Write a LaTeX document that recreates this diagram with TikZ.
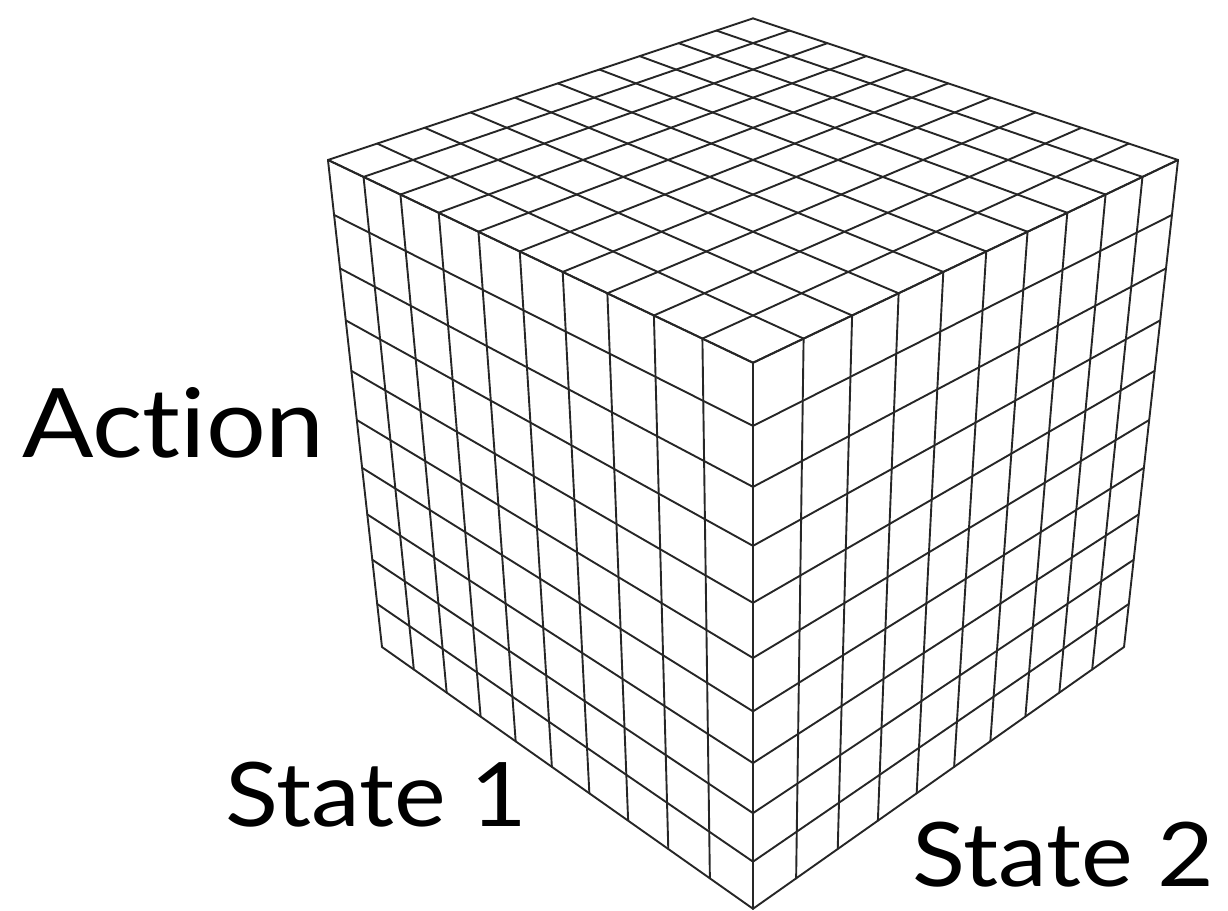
\documentclass[tikz,border=0pt]{standalone}
\usepackage{fontspec}
\setmainfont{Lato}[Ligatures=NoCommon, FakeStretch=1.1]
\usepackage{tikz}
\tikzset{
  % perspective view of the 10x10x10 cube (a: left, b: right, c: up)
  declare function={
    cd(\a,\b)=0.7071*(\a+\b)-7.071;
    cz(\a,\b,\c)=36.92+0.8653*cd(\a,\b)-0.5011*(\c-5);
    px(\a,\b,\c)=753+2068.6/cz(\a,\b,\c)*0.7071*(\b-\a);
    py(\a,\b,\c)=420-2068.6/cz(\a,\b,\c)*(0.8653*(\c-5)+0.5011*cd(\a,\b));
  }
}
\newcommand{\cubpt}[3]{({px(#1,#2,#3)},{py(#1,#2,#3)})}

\begin{document}
\begin{tikzpicture}[
  x=1pt, y=-1pt,
  gridline/.style={line width=1.9pt, black!85, line cap=round, line join=round},
  axislbl/.style={anchor=base west, inner sep=0pt, text=black, font=\fontsize{#1}{#1}\selectfont},
  axislbl/.default=89
]
\useasboundingbox (0,0) rectangle (1228,910);
% Grid on the three faces
\foreach \i in {0,...,10} {
  % top
  \draw[gridline] \cubpt{\i}{0}{10} -- \cubpt{\i}{10}{10};
  \draw[gridline] \cubpt{0}{\i}{10} -- \cubpt{10}{\i}{10};
  % left
  \draw[gridline] \cubpt{\i}{0}{0} -- \cubpt{\i}{0}{10};
  \draw[gridline] \cubpt{0}{0}{\i} -- \cubpt{10}{0}{\i};
  % right
  \draw[gridline] \cubpt{0}{\i}{0} -- \cubpt{0}{\i}{10};
  \draw[gridline] \cubpt{0}{0}{\i} -- \cubpt{0}{10}{\i};
}
% Axis labels
\node[axislbl=96] (action) at (22,457) {Action};
\node[axislbl] (state1) at (225,826) {State 1};
\node[axislbl] (state2) at (912,886) {State 2};
\end{tikzpicture}
\end{document}
